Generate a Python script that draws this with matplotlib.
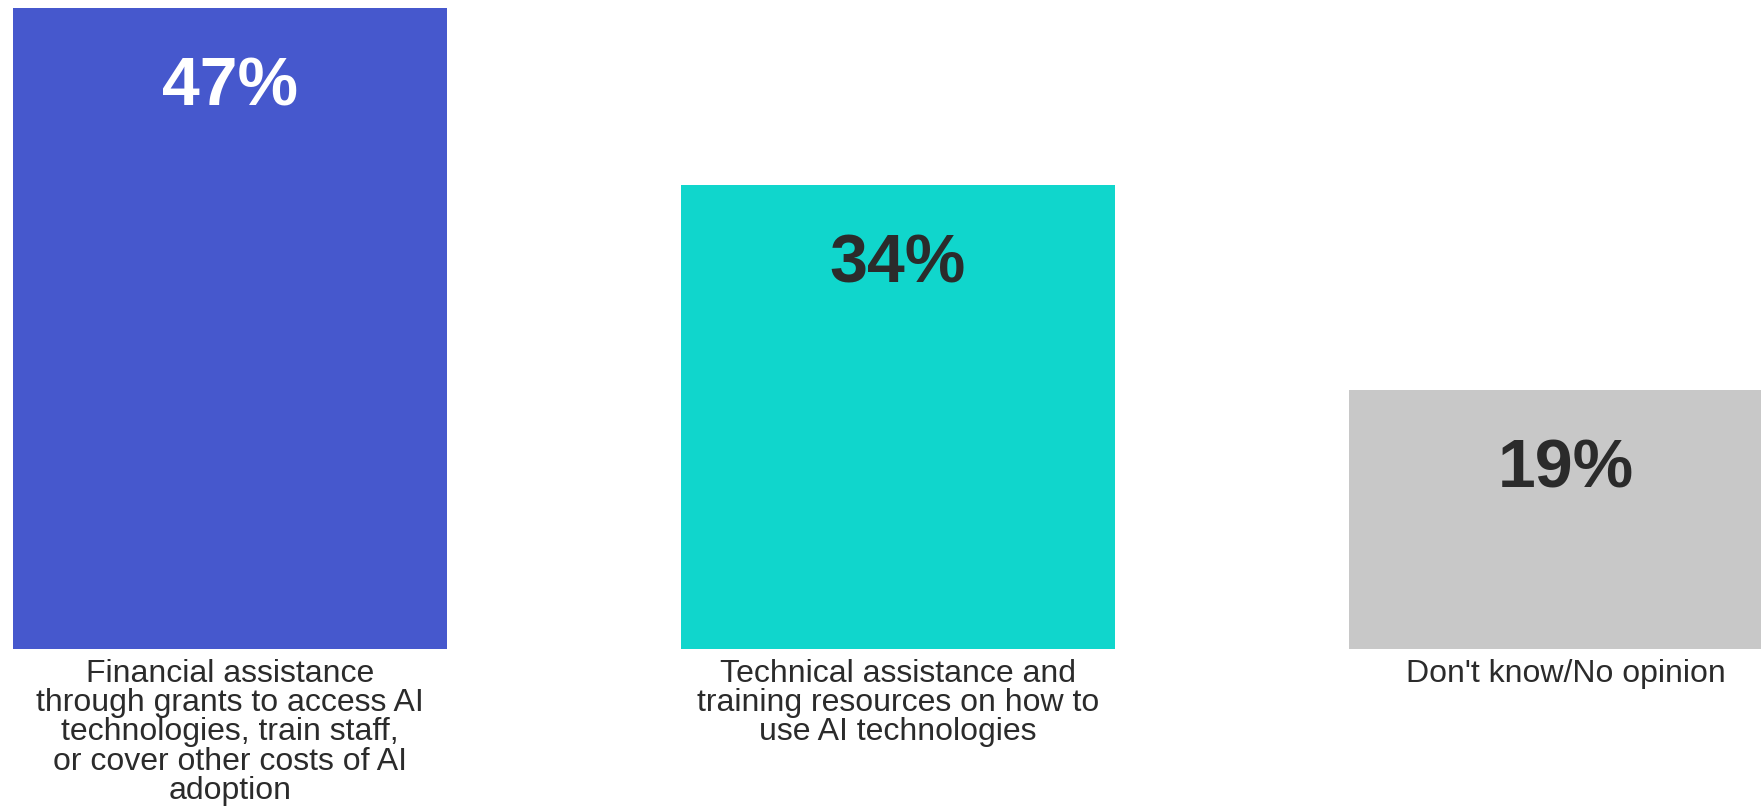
import numpy as np
import matplotlib.pyplot as plt

# survey answers and shares
categories = [
    "Financial assistance\nthrough grants to access AI\ntechnologies, train staff,\nor cover other costs of AI\nadoption",
    "Technical assistance and\ntraining resources on how to\nuse AI technologies",
    "Don't know/No opinion",
]
shares = [47, 34, 19]
bar_colors = ["#4658CD", "#10D6CC", "#C8C8C8"]
value_colors = ["white", "#2B2B2B", "#2B2B2B"]

plt.rcParams['font.family'] = ['Liberation Sans', 'DejaVu Sans']

fig = plt.figure(figsize=(17.61, 8.06), dpi=100)
ax = fig.add_axes([0, 0.1948, 1, 0.7953])

xs = np.arange(len(shares))
bars = ax.bar(xs, shares, width=0.65, color=bar_colors)

# value labels inside the top of each bar
for x, v, c in zip(xs, shares, value_colors):
    ax.annotate(f"{v}%", (x, v), xytext=(0, -34), textcoords="offset points",
                ha="center", va="top", fontsize=49, fontweight="bold", color=c)

ax.set_xlim(-0.3443, 2.292)
ax.set_ylim(0, 47)
ax.set_xticks(xs)
ax.set_xticklabels(categories, fontsize=23, color="#2B2B2B")
for lbl in ax.get_xticklabels():
    lbl.set_linespacing(0.97)
ax.tick_params(axis="x", length=0, pad=7)
ax.set_yticks([])
for s in ax.spines.values():
    s.set_visible(False)

fig.savefig("out.png", dpi=100)
